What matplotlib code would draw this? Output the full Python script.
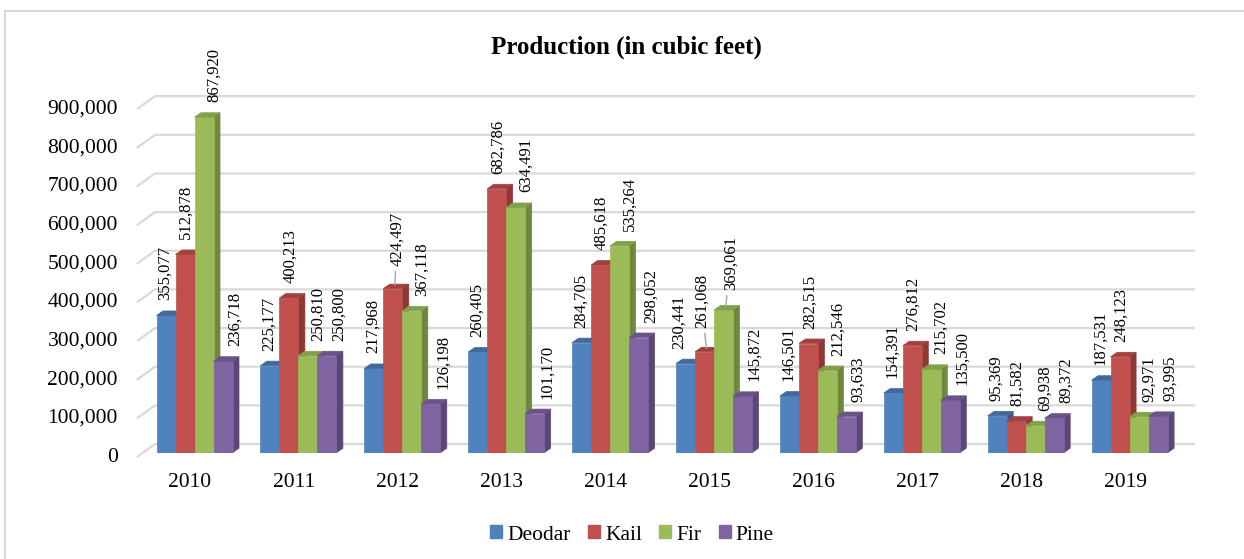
import matplotlib
matplotlib.use('Agg')
import matplotlib.pyplot as plt
from matplotlib.patches import Polygon, Rectangle, Patch
from matplotlib.transforms import offset_copy

plt.rcParams['font.family'] = ['Liberation Serif', 'DejaVu Serif']

# data
years = ['2010', '2011', '2012', '2013', '2014', '2015', '2016', '2017', '2018', '2019']
deodar = [355077, 225177, 217968, 260405, 284705, 230441, 146501, 154391, 95369, 187531]
kail = [512878, 400213, 424497, 682786, 485618, 261068, 282515, 276812, 81582, 248123]
fir = [867920, 250810, 367118, 634491, 535264, 369061, 212546, 215702, 69938, 92971]
pine = [236718, 250800, 126198, 101170, 298052, 145872, 93633, 135500, 89372, 93995]
series_names = ['Deodar', 'Kail', 'Fir', 'Pine']
yticks = [0, 100000, 200000, 300000, 400000, 500000, 600000, 700000, 800000, 900000]

face = ['#4f81bd', '#c0504d', '#9bbb59', '#8064a2']
side = ['#385d8a', '#8c3836', '#6f873e', '#5b4775']
top = ['#41699c', '#a3403e', '#82a049', '#6b5288']

W, H = 1244, 559
fig = plt.figure(figsize=(W / 100, H / 100), dpi=100)

# layout in pixels
left_px, right_px = 137, 1200
zero_px, top_px = 452.7, 60
group_px = 103.9
first_px = 194.5
px_per_val = 38.65 / 100000

xmin = -(first_px - left_px) / group_px
xmax = xmin + (right_px - left_px) / group_px
ymax = (zero_px - top_px) / px_per_val
ux = 1 / group_px
uy = 1 / px_per_val

ax = fig.add_axes([left_px / W, 1 - zero_px / H, (right_px - left_px) / W, (zero_px - top_px) / H])
ax.set_xlim(xmin, xmax)
ax.set_ylim(0, ymax)
ax.axis('off')

# chart border
fig.patches.append(Rectangle((5 / W, -0.1), 1.2, 1 - 11 / H + 0.1, transform=fig.transFigure,
                             fill=False, edgecolor='#d9d9d9', lw=1.5))

# gridlines (3D back wall)
grid_col = '#d9d9d9'
for v in yticks:
    fx, fy = xmin, v - 4.3 * uy
    bx, by = xmin + 18 * ux, v + 8.7 * uy
    ax.plot([fx, bx, xmax - 5 * ux], [fy, by, by], color=grid_col, lw=1.6, zorder=1,
            solid_capstyle='butt', clip_on=False)
    ax.text(fx, fy, f'{v:,}', transform=offset_copy(ax.transData, fig, x=-19, y=0, units='dots'),
            ha='right', va='center', fontsize=15.5, color='#000000')

# bars
bw = 19 * ux
dx, dy = 6.5 * ux, 4.5 * uy
data = [deodar, kail, fir, pine]
for i in range(len(years)):
    for j, vals in enumerate(data):
        v = vals[i]
        x0 = i - 2 * bw + j * bw
        x1 = x0 + bw
        ax.add_patch(Polygon([(x1, 0), (x1 + dx, dy), (x1 + dx, v + dy), (x1, v)],
                             closed=True, facecolor=side[j], edgecolor=side[j], lw=0.5, zorder=3))
        ax.add_patch(Rectangle((x0, 0), bw, v, facecolor=face[j], edgecolor=face[j], lw=0.5, zorder=3))
        ax.add_patch(Polygon([(x0, v), (x0 + dx, v + dy), (x1 + dx, v + dy), (x1, v)],
                             closed=True, facecolor=top[j], edgecolor=top[j], lw=0.5, zorder=3))

# data labels, offsets in pixels from the front top of each bar
label_dx = [-3, -1, 8, 10]
moved = {(2, 1): (2, 21), (5, 0): (-9, 13), (5, 1): (-5, 22), (5, 2): (5, 18)}
leader = {(2, 1), (5, 1), (5, 2)}
for i in range(len(years)):
    for j, vals in enumerate(data):
        v = vals[i]
        xc = i - 2 * bw + j * bw + bw / 2
        ox, oy = moved.get((i, j), (label_dx[j], 13))
        kw = {}
        if (i, j) in leader:
            kw['arrowprops'] = dict(arrowstyle='-', color='#a6a6a6', lw=1, shrinkA=2, shrinkB=1)
        ax.annotate(f'{v:,}', xy=(xc + 2 * ux, v + 2 * uy), xytext=(ox, oy),
                    textcoords='offset pixels', rotation=90, ha='center', va='bottom',
                    fontsize=12, zorder=5, annotation_clip=False, **kw)

# category labels
for i, yr in enumerate(years):
    ax.text(i - 4.5 * ux, 0, yr, transform=offset_copy(ax.transData, fig, x=0, y=-30, units='dots'),
            ha='center', va='center', fontsize=15.5)

fig.text(626 / W, 1 - 47 / H, 'Production (in cubic feet)', ha='center', va='center',
         fontsize=18, fontweight='bold')

handles = [Patch(facecolor=face[k], edgecolor=face[k]) for k in range(4)]
fig.legend(handles, series_names, loc='center', bbox_to_anchor=(632 / W, 1 - 535 / H), ncol=4,
           frameon=False, fontsize=15.5, handlelength=0.55, handleheight=0.55,
           handletextpad=0.25, columnspacing=0.8, borderaxespad=0)

fig.savefig('out.png', dpi=100)
